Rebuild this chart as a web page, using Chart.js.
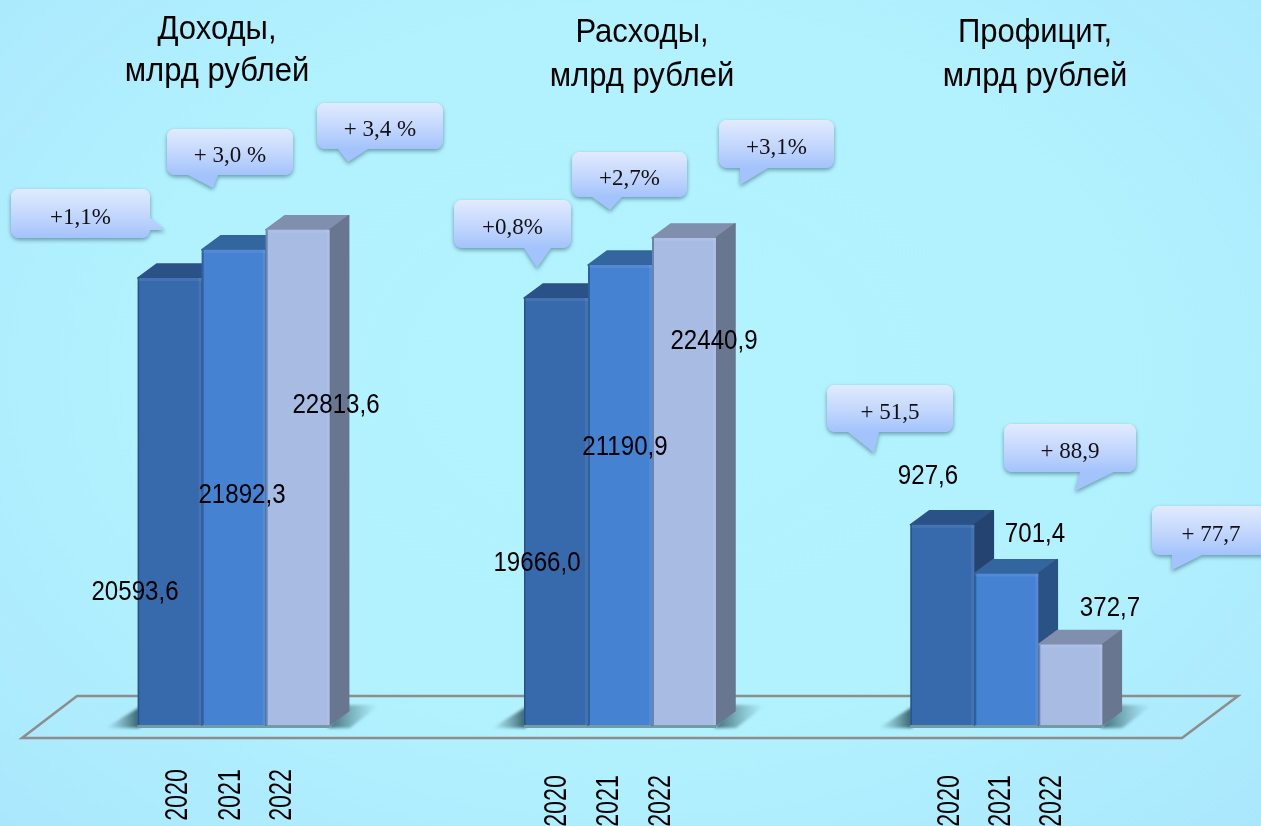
<!DOCTYPE html>
<html lang="ru">
<head>
<meta charset="utf-8">
<title>Доходы, расходы, профицит</title>
<script src="https://cdn.jsdelivr.net/npm/chart.js@4"></script>
<style>
  html, body { margin: 0; padding: 0; overflow: hidden; }
  body { width: 1261px; height: 826px; background: radial-gradient(ellipse at 50% 45%, #b3f3ff 0%, #b2f2fe 55%, #aae7fd 100%); }
  canvas { display: block; }
</style>
</head>
<body>
<canvas id="budgetChart" width="1261" height="826"></canvas>
<script>
// данные
const categories = ['Доходы', 'Расходы', 'Профицит'];
const years = ['2020', '2021', '2022'];
const values2020 = [20593.6, 19666.0, 927.6];
const values2021 = [21892.3, 21190.9, 701.4];
const values2022 = [22813.6, 22440.9, 372.7];
const valueTexts = ['20593,6', '19666,0', '927,6', '21892,3', '21190,9', '701,4', '22813,6', '22440,9', '372,7'];
const growthTexts = ['+1,1%', '+0,8%', '+ 51,5', '+ 3,0 %', '+2,7%', '+ 88,9', '+ 3,4 %', '+3,1%', '+ 77,7'];

// оформление
const FONT_SANS = '"Liberation Sans", sans-serif';
const FONT_SERIF = '"Liberation Serif", serif';
const DEPTH_X = 19, DEPTH_Y = 14;
const frontColors = ['#3769ad', '#4582d2', '#a7bbe3'];
const topColors = ['#2b5286', '#33659f', '#808fae'];
const sideColors = ['#24446f', '#2b5284', '#69768f'];
const titleCenters = [[217, 30, 72], [642, 33, 77], [1035, 33, 77]];
const yearCenters = [[178, 231, 282, 795], [557, 609, 661, 801], [950, 1001, 1052, 801]];
const floorLine = [[22, 738], [1182, 738], [1238, 696], [77, 696]];
const labelSpots = [[135, 592], [537, 563], [928, 476], [242, 495], [625, 447], [1035, 534], [336, 405], [714, 341], [1110, 608]];
// x, y, w, h, затем хвост выноски
const calloutBoxes = [
    [11, 189, 139, 49, [[150, 218], [165, 230], [150, 230]]],
    [454, 200, 117, 48, [[524, 248], [551, 248], [537, 268]]],
    [827, 385, 126, 47, [[848, 432], [879, 432], [874, 453]]],
    [167, 129, 126, 46, [[188, 175], [218, 175], [213, 188]]],
    [572, 152, 115, 45, [[592, 197], [622, 197], [610, 210]]],
    [1004, 424, 132, 48, [[1080, 472], [1114, 472], [1075, 491]]],
    [317, 103, 126, 46, [[338, 149], [368, 149], [348, 162]]],
    [719, 120, 115, 48, [[740, 168], [768, 168], [740, 185]]],
    [1152, 506, 120, 49, [[1172, 555], [1202, 555], [1172, 570]]]
];

function polygon(ctx, pts) {
    ctx.beginPath();
    pts.forEach((p, i) => i ? ctx.lineTo(p[0], p[1]) : ctx.moveTo(p[0], p[1]));
    ctx.closePath();
}

// узкий шрифт: Arial Narrow нет, сжимаем по ширине
function narrowText(ctx, text, x, y, squeeze) {
    ctx.save();
    ctx.translate(x, y);
    ctx.scale(squeeze, 1);
    ctx.fillText(text, 0, 0);
    ctx.restore();
}

// столбцы в порядке: год, категория
function eachBar(chart, fn) {
    chart.data.datasets.forEach((ds, d) => {
        chart.getDatasetMeta(d).data.forEach((el, i) => {
            if (ds.data[i] == null) return;
            fn(el.getProps(['x', 'y', 'base', 'width'], true), ds.yearIndex, i);
        });
    });
}

const scenePlugin = {
    id: 'scene',
    beforeDatasetsDraw(chart) {
        const ctx = chart.ctx;
        ctx.save();
        // пол
        polygon(ctx, floorLine);
        ctx.strokeStyle = '#8d8d8d';
        ctx.lineWidth = 2.5;
        ctx.lineJoin = 'miter';
        ctx.stroke();

        // тени групп
        const x = chart.scales.x;
        categories.forEach((c, i) => {
            const cx = x.getPixelForValue(i), halfW = 96, base = chart.scales.y.bottom;
            const l = cx - halfW, r = cx + halfW;
            ctx.save();
            ctx.filter = 'blur(1.5px)';
            let g = ctx.createLinearGradient(l - 32, 0, l, 0);
            g.addColorStop(0, 'rgba(90,140,150,0)');
            g.addColorStop(1, 'rgba(60,105,115,1)');
            ctx.fillStyle = g;
            polygon(ctx, [[l + 2, base - 18], [l + 2, base + 3], [l - 32, base + 3]]);
            ctx.fill();
            g = ctx.createLinearGradient(r - 2, 0, r + 48, 0);
            g.addColorStop(0, 'rgba(60,105,115,1)');
            g.addColorStop(1, 'rgba(90,140,150,0)');
            ctx.fillStyle = g;
            polygon(ctx, [[r - 2, base + 3], [r + 18, base - 20], [r + 50, base - 20], [r + 20, base + 3]]);
            ctx.fill();
            ctx.restore();
            ctx.fillStyle = '#739ba6';
            ctx.fillRect(l, base, r - l, 3);
        });

        // верх и правая грань
        ctx.lineJoin = 'round';
        ctx.lineWidth = 1.5;
        eachBar(chart, (b, yi) => {
            const l = b.x - b.width / 2, r = b.x + b.width / 2;
            polygon(ctx, [[l, b.y], [l + DEPTH_X, b.y - DEPTH_Y], [r + DEPTH_X, b.y - DEPTH_Y], [r, b.y]]);
            ctx.fillStyle = ctx.strokeStyle = topColors[yi];
            ctx.fill();
            ctx.stroke();
            polygon(ctx, [[r, b.y], [r + DEPTH_X, b.y - DEPTH_Y], [r + DEPTH_X, b.base - DEPTH_Y], [r, b.base]]);
            ctx.fillStyle = ctx.strokeStyle = sideColors[yi];
            ctx.fill();
            ctx.stroke();
        });
        ctx.restore();
    },
    afterDatasetsDraw(chart) {
        const ctx = chart.ctx;
        ctx.save();
        // фаска на лицевой грани
        eachBar(chart, (b, yi) => {
            const l = b.x - b.width / 2, r = b.x + b.width / 2;
            ctx.fillStyle = 'rgba(255,255,255,0.07)';
            ctx.fillRect(l, b.y, b.width, 3);
            ctx.fillRect(r - 3, b.y, 3, b.base - b.y);
            ctx.fillStyle = 'rgba(15,40,80,0.38)';
            ctx.fillRect(l, b.y, yi ? 2 : 1.5, b.base - b.y);
        });

        // выноски
        calloutBoxes.forEach((box, i) => {
            const [bx, by, w, h, tail] = box;
            const g = ctx.createLinearGradient(0, by, 0, by + h);
            g.addColorStop(0, '#e0ebfe');
            g.addColorStop(0.55, '#c2d6fd');
            g.addColorStop(1, '#a3c3fc');
            ctx.save();
            ctx.shadowColor = 'rgba(40,80,100,0.55)';
            ctx.shadowBlur = 4;
            ctx.shadowOffsetY = 2;
            ctx.fillStyle = g;
            ctx.beginPath();
            ctx.roundRect(bx, by, w, h, 8);
            ctx.fill();
            polygon(ctx, tail);
            ctx.fill();
            ctx.restore();
            ctx.fillStyle = g;
            ctx.beginPath();
            ctx.roundRect(bx, by, w, h, 8);
            ctx.fill();
            ctx.fillStyle = '#111';
            ctx.font = '23px ' + FONT_SERIF;
            ctx.textAlign = 'center';
            ctx.textBaseline = 'middle';
            ctx.fillText(growthTexts[i], Math.min(bx + w / 2, 1211), by + h / 2 + 4);
        });

        // подписи значений
        ctx.fillStyle = '#000';
        ctx.font = '28px ' + FONT_SANS;
        ctx.textAlign = 'center';
        ctx.textBaseline = 'middle';
        valueTexts.forEach((t, i) => narrowText(ctx, t, labelSpots[i][0], labelSpots[i][1], 0.86));

        // заголовки
        ctx.font = '33px ' + FONT_SANS;
        categories.forEach((c, i) => {
            const [cx, y1, y2] = titleCenters[i];
            narrowText(ctx, c + ',', cx, y1, 0.94);
            narrowText(ctx, 'млрд рублей', cx, y2, 0.94);
        });

        // годы
        ctx.font = '31px ' + FONT_SANS;
        yearCenters.forEach((row) => {
            years.forEach((yr, i) => {
                ctx.save();
                ctx.translate(row[i], row[3]);
                ctx.rotate(-Math.PI / 2);
                narrowText(ctx, yr, 0, 0, 0.75);
                ctx.restore();
            });
        });
        ctx.restore();
    }
};

const seriesByYear = [values2020, values2021, values2022];
const barDatasets = [];
seriesByYear.forEach((vals, i) => {
    barDatasets.push({
        label: years[i], yearIndex: i, stack: years[i], yAxisID: 'y',
        data: [vals[0], vals[1], null], backgroundColor: frontColors[i]
    });
    barDatasets.push({
        label: years[i], yearIndex: i, stack: years[i], yAxisID: 'ySurplus',
        data: [null, null, vals[2]], backgroundColor: frontColors[i]
    });
});

new Chart(document.getElementById('budgetChart'), {
    type: 'bar',
    data: { labels: categories, datasets: barDatasets },
    options: {
        responsive: false,
        animation: false,
        categoryPercentage: 0.497,
        barPercentage: 1,
        layout: { padding: { left: 40.5, right: 61.5, top: 0, bottom: 101 } },
        plugins: { legend: { display: false }, tooltip: { enabled: false } },
        scales: {
            x: { display: false },
            y: { display: false, min: 0, max: 33400 },
            ySurplus: { display: false, min: 0, max: 3360 }
        }
    },
    plugins: [scenePlugin]
});
</script>
</body>
</html>
